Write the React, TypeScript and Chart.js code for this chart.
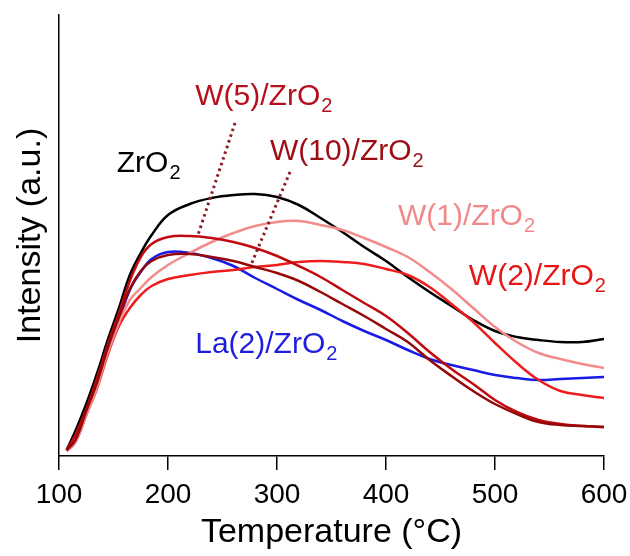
import React, { useEffect, useRef } from "react";
import { Chart, registerables } from "chart.js";
Chart.register(...registerables);

// Temperature grid (°C)
const temps = [107, 115, 125, 135, 145, 155, 165, 175, 185, 200, 220, 240, 260, 280, 300, 320, 340, 360, 380, 400, 420, 440, 460, 480, 500, 520, 540, 560, 580, 600];
// Intensity (a.u.) per sample
const zro2 = [6, 25, 52, 83, 117, 148, 181, 203, 221, 241, 252, 258, 261, 262, 259, 251, 238, 224, 209, 195, 179, 164, 150, 136, 125, 119, 116, 114, 114, 117];
const w1 = [5, 14, 41, 69, 104, 133, 156, 168, 179, 191, 203, 214, 223, 230, 234, 235, 231, 226, 218, 209, 199, 184, 167, 148, 129, 114, 103, 97, 92, 88];
const w2 = [5, 14, 41, 68, 102, 130, 148, 161, 170, 177, 181, 184, 186, 189, 191, 194, 195, 194, 192, 187, 181, 169, 152, 134, 113, 93, 76, 65, 61, 58];
const w5 = [6, 21, 47, 78, 112, 143, 175, 199, 212, 219, 220, 218, 214, 208, 200, 190, 179, 166, 153, 140, 123, 104, 87, 72, 56, 44, 36, 32, 30, 29];
const w10 = [6, 16, 45, 74, 109, 139, 167, 185, 195, 201, 202, 199, 195, 189, 183, 175, 164, 152, 140, 127, 114, 96, 80, 65, 52, 42, 34, 31, 30, 29];
const la2 = [5, 14, 42, 70, 106, 136, 166, 184, 197, 204, 203, 198, 190, 178, 167, 156, 146, 135, 125, 116, 106, 97, 91, 86, 81, 78, 76, 77, 78, 79];

const xTicks = [100, 200, 300, 400, 500, 600];

const FONT = "'Liberation Sans', Arial, sans-serif";

// Series labels placed in data coordinates (temperature, intensity)
const seriesLabels = [
  { main: "ZrO", sub: "2", t: 153, v: 284, color: "#000000" },
  { main: "W(5)/ZrO", sub: "2", t: 225, v: 351, color: "#B4101C" },
  { main: "W(10)/ZrO", sub: "2", t: 293.5, v: 296, color: "#9B0F14" },
  { main: "W(1)/ZrO", sub: "2", t: 411, v: 231, color: "#F08A8A" },
  { main: "W(2)/ZrO", sub: "2", t: 476, v: 171, color: "#E81515" },
  { main: "La(2)/ZrO", sub: "2", t: 225, v: 103, color: "#1E1EDC" },
];
// Dotted leader lines in data coordinates
const leaders = [
  { t1: 261.5, v1: 333, t2: 227.5, v2: 221 },
  { t1: 311.9, v1: 284, t2: 276.1, v2: 191 },
];

const labelPlugin = {
  id: "seriesLabels",
  afterDatasetsDraw(chart: any) {
    const { ctx, scales } = chart;
    const xs = scales.x;
    const ys = scales.y;
    ctx.save();
    ctx.strokeStyle = "#8C1A24";
    ctx.lineWidth = 3;
    ctx.setLineDash([2.5, 3.5]);
    ctx.lineCap = "butt";
    for (const l of leaders) {
      ctx.beginPath();
      ctx.moveTo(xs.getPixelForValue(l.t1), ys.getPixelForValue(l.v1));
      ctx.lineTo(xs.getPixelForValue(l.t2), ys.getPixelForValue(l.v2));
      ctx.stroke();
    }
    ctx.setLineDash([]);
    ctx.textBaseline = "alphabetic";
    ctx.textAlign = "left";
    for (const s of seriesLabels) {
      const x = xs.getPixelForValue(s.t);
      const y = ys.getPixelForValue(s.v);
      ctx.fillStyle = s.color;
      ctx.font = `30px ${FONT}`;
      ctx.fillText(s.main, x, y);
      const w = ctx.measureText(s.main).width;
      ctx.font = `20px ${FONT}`;
      ctx.fillText(s.sub, x + w + 1, y + 7);
    }
    ctx.restore();
  },
};

export default function App() {
  const ref = useRef<HTMLCanvasElement>(null);
  useEffect(() => {
    if (!ref.current) return;
    const mk = (vals: number[]) => temps.map((t, i) => ({ x: t, y: vals[i] }));
    const ds = (label: string, vals: number[], color: string) => ({
      label,
      data: mk(vals),
      borderColor: color,
      backgroundColor: color,
      borderWidth: 2.5,
      pointRadius: 0,
      tension: 0.4,
      fill: false,
    });
    const chart = new Chart(ref.current, {
      type: "line",
      data: {
        datasets: [
          ds("W(10)/ZrO2", w10, "#960808"),
          ds("W(5)/ZrO2", w5, "#C00A10"),
          ds("W(1)/ZrO2", w1, "#F28B8B"),
          ds("W(2)/ZrO2", w2, "#EE1C1C"),
          ds("ZrO2", zro2, "#000000"),
          ds("La(2)/ZrO2", la2, "#1A1AE6"),
        ],
      },
      options: {
        responsive: false,
        animation: false,
        layout: { padding: { left: 0, right: 26, top: 15, bottom: 0 } },
        plugins: { legend: { display: false }, tooltip: { enabled: false } },
        scales: {
          x: {
            type: "linear",
            min: 100,
            max: 600,
            afterBuildTicks: (scale: any) => {
              scale.ticks = xTicks.map((v) => ({ value: v }));
            },
            afterFit: (scale: any) => {
              scale.height = 100;
              scale.paddingLeft = 0;
              scale.paddingRight = 0;
            },
            ticks: {
              color: "#000",
              font: { family: FONT, size: 28 },
              padding: 8,
              maxRotation: 0,
            },
            grid: {
              drawOnChartArea: false,
              drawTicks: true,
              tickLength: 14,
              color: "#000",
              lineWidth: 1.5,
            },
            border: { display: true, color: "#000", width: 1.5 },
            title: {
              display: true,
              text: "Temperature (°C)",
              color: "#000",
              font: { family: FONT, size: 34 },
              padding: { top: 0, bottom: 3 },
            },
          },
          y: {
            min: 0,
            max: 441,
            afterFit: (scale: any) => {
              scale.width = 59;
              scale.paddingTop = 0;
              scale.paddingBottom = 0;
            },
            ticks: { display: false },
            grid: { drawOnChartArea: false, drawTicks: false, tickLength: 0 },
            border: { display: true, color: "#000", width: 1.5 },
            title: {
              display: true,
              text: "Intensity (a.u.)",
              color: "#000",
              font: { family: FONT, size: 34 },
              padding: { top: 10, bottom: 0 },
            },
          },
        },
      },
      plugins: [labelPlugin],
    });
    return () => chart.destroy();
  }, []);
  return (
    <div style={{ position: "fixed", left: 0, top: 0, width: 630, height: 556, background: "#fff" }}>
      <canvas ref={ref} width={630} height={556} style={{ display: "block" }} />
    </div>
  );
}
